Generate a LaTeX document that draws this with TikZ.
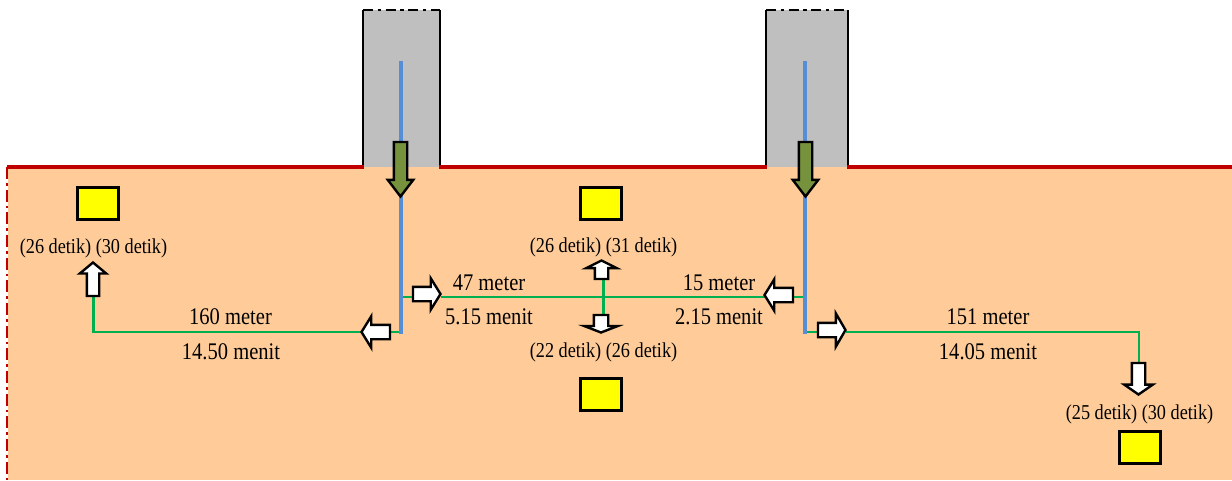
\documentclass[tikz,border=0pt]{standalone}
\usepackage{fontspec}
\setmainfont[FakeStretch=0.86]{Liberation Serif}
\usetikzlibrary{shapes.arrows}
\pgfdeclarelayer{groundlayer}
\pgfdeclarelayer{connlayer}
\pgfsetlayers{groundlayer,connlayer,main}
\definecolor{peach}{HTML}{FFCC99}
\definecolor{towergrey}{HTML}{BFBFBF}
\definecolor{roadred}{HTML}{C00000}
\definecolor{pathblue}{HTML}{558ED5}
\definecolor{pathgreen}{HTML}{00B050}
\definecolor{olivearrow}{HTML}{76923C}
\definecolor{stopyellow}{RGB}{255,255,0}
\tikzset{
  flowarrow/.style n args={5}{single arrow, draw=black, line width=1.8pt, outer sep=0pt,
    inner sep={(#3-2)*0.375pt},
    anchor=tail, shape border rotate=#5,
    minimum height={(#1-2.5)*0.75pt},
    single arrow head extend={(#2-#3-1)*0.375pt},
    single arrow tip angle={2*atan((#2-3)/2/(#4))}},
  whitearrow/.style={fill=white},
  greenarrow/.style={fill=olivearrow},
  stopbox/.style={draw=black, fill=stopyellow, line width=1.6pt, minimum width=41*0.75pt, minimum height=32*0.75pt, inner sep=0pt, outer sep=0pt},
  biglabel/.style={font=\fontsize{17.9pt}{19pt}\selectfont, inner sep=0pt, text=black},
  smalllabel/.style={font=\fontsize{15.9pt}{17pt}\selectfont, inner sep=0pt, text=black},
  blueline/.style={draw=pathblue, line width=3pt},
  greenline/.style={draw=pathgreen, line width=1.6pt},
  towerside/.style={draw=black, line width=2pt},
  towertop/.style={draw=black, line width=2pt, dash pattern=on 7.5pt off 3.5pt on 2.5pt off 3.5pt},
  roadline/.style={draw=roadred, line width=3pt},
  edgeline/.style={draw=roadred, line width=1.1pt, dash pattern=on 9pt off 3pt on 2pt off 3pt},
}
\begin{document}
\begin{tikzpicture}[x=0.75pt,y=-0.75pt]
\useasboundingbox (0,0) rectangle (1232,480);

% junctions
\coordinate (b1top) at (401,61);
\coordinate (b1bot) at (401,334);
\coordinate (b2top) at (805,61);
\coordinate (b2bot) at (805,334);
\coordinate (j1) at (401,297);
\coordinate (j2) at (805,297);
\coordinate (j3) at (603.5,297);
\coordinate (l1) at (401,332);
\coordinate (l2) at (93.5,332);
\coordinate (r1) at (805,332);
\coordinate (r2) at (1139,332);

% arrows
\node[flowarrow={57}{26}{13}{15}{270}, greenarrow] (g1) at (400.5,142) {};
\node[flowarrow={57}{26}{13}{15}{270}, greenarrow] (g2) at (805.5,142) {};
\node[flowarrow={30}{32}{14}{9}{0}, whitearrow] (a1) at (413,294) {};
\node[flowarrow={31}{32}{14}{9}{180}, whitearrow] (a2) at (390,332) {};
\node[flowarrow={31}{32}{14}{9}{180}, whitearrow] (a3) at (793,295) {};
\node[flowarrow={30}{34}{14}{9}{0}, whitearrow] (a4) at (818,330) {};
\node[flowarrow={36}{27}{12}{10}{90}, whitearrow] (a5) at (93,296) {};
\node[flowarrow={34}{29}{13}{9}{270}, whitearrow] (a6) at (1138.5,363) {};
\node[flowarrow={21}{31}{13}{7}{90}, whitearrow] (a7) at (601.5,279) {};
\node[flowarrow={20}{34}{14}{6}{270}, whitearrow] (a8) at (601,315) {};

% stops
\node[stopbox] (s1) at (98,203.5) {};
\node[stopbox] (s2) at (601,203.5) {};
\node[stopbox] (s3) at (601,394.5) {};
\node[stopbox] (s4) at (1140,447.5) {};

% labels
\node[smalllabel] (t1) at (93.5,248) {(26 detik) (30 detik)};
\node[smalllabel] (t2) at (603.5,247) {(26 detik) (31 detik)};
\node[smalllabel] (t3) at (603.5,352) {(22 detik) (26 detik)};
\node[smalllabel] (t4) at (1139.5,414) {(25 detik) (30 detik)};
\node[biglabel] (m1) at (230.5,317) {160 meter};
\node[biglabel] (d1) at (231,352) {14.50 menit};
\node[biglabel] (m2) at (489,282.5) {47 meter};
\node[biglabel] (d2) at (489,317) {5.15 menit};
\node[biglabel] (m3) at (719,282.5) {15 meter};
\node[biglabel] (d3) at (719,317) {2.15 menit};
\node[biglabel] (m4) at (988,317) {151 meter};
\node[biglabel] (d4) at (988,352) {14.05 menit};

\begin{pgfonlayer}{groundlayer}
  \fill[white] (0,0) rectangle (1232,480);
  \fill[peach] (8,167) rectangle (1232,480);
  \fill[towergrey] (363,10) rectangle (440,167);
  \fill[towergrey] (766,10) rectangle (848,167);
  \draw[towerside] (363,167) -- (363,10);
  \draw[towerside] (440,10) -- (440,167);
  \draw[towerside] (766,167) -- (766,10);
  \draw[towerside] (848,10) -- (848,167);
  \draw[towertop] (363,10) -- (440,10);
  \draw[towertop] (766,10) -- (848,10);
  \draw[roadline] (7,167) -- (364,167);
  \draw[roadline] (439,167) -- (767,167);
  \draw[roadline] (847,167) -- (1232,167);
  \draw[edgeline] (7,167) -- (7,480);
\end{pgfonlayer}

\begin{pgfonlayer}{connlayer}
  \draw[greenline] (l1) -- (a2.tail);
  \draw[greenline] (a2.tip) -- (l2) -- (l2 |- a5.tail);
  \draw[greenline] (j1) -- (j1 -| a1.tail);
  \draw[greenline] (j1 -| a1.tip) -- (j2 -| a3.tip);
  \draw[greenline] (j2 -| a3.tail) -- (j2);
  \draw[greenline] (j3) -- (j3 |- a7.tail);
  \draw[greenline] (j3) -- (j3 |- a8.tail);
  \draw[greenline] (r1) -- (r1 -| a4.tail);
  \draw[greenline] (r1 -| a4.tip) -- (r2) -- (r2 |- a6.tail);
  \draw[blueline] (b1top) -- (b1bot);
  \draw[blueline] (b2top) -- (b2bot);
\end{pgfonlayer}
\end{tikzpicture}
\end{document}
